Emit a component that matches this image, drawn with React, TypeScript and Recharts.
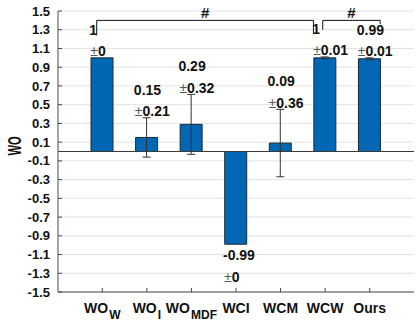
import React from 'react';
import {
  ComposedChart, Bar, Line, XAxis, YAxis, CartesianGrid, ErrorBar, LabelList, ReferenceLine, Label,
} from 'recharts';

// categories; "_" splits the subscript part of the name
const categories = ['WO_W', 'WO_I', 'WO_MDF', 'WCI', 'WCM', 'WCW', 'Ours'];
const means = [1, 0.15, 0.29, -0.99, 0.09, 1, 0.99];
const errors = [0, 0.21, 0.32, 0, 0.36, 0.01, 0.01];
const yTicks = [-1.5, -1.3, -1.1, -0.9, -0.7, -0.5, -0.3, -0.1, 0.1, 0.3, 0.5, 0.7, 0.9, 1.1, 1.3, 1.5];

// significance brackets in (category slot 1..7, value) units: [xStart, xEnd, yTop, yLeftEnd, yRightEnd]
const brackets = [
  [0.87, 5.74, 1.4, 1.24, 1.26],
  [5.95, 7.24, 1.4, 1.3, 1.36],
];
const bracketMarks = ['#', '#'];

const data = categories.map((name, i) => ({
  name,
  slot: i + 1,
  mean: means[i],
  err: errors[i],
  meanText: String(means[i]),
  errText: String(errors[i]),
}));

const FONT = '"Liberation Sans", Arial, sans-serif';
const BLUE = '#0067b4';

const meanLabelY = (d: any) => (d.mean >= 0 ? d.mean + d.err + 0.3 : d.mean - d.err - 0.11);
const errLabelY = (d: any) => (d.mean >= 0 ? d.mean + d.err + 0.07 : d.mean - d.err - 0.35);

const CategoryTick = (props: any) => {
  const { x, y, payload } = props;
  const [main, sub] = String(payload.value).split('_');
  return (
    <text x={x} y={y + 11} textAnchor="middle" fontFamily={FONT} fontWeight="bold" fontSize={14} fill="#111">
      {main}
      {sub && <tspan fontSize={12} dx={1} dy={6}>{sub}</tspan>}
    </text>
  );
};

const MeanLabel = (props: any) => (
  <text x={props.x - 13} y={props.y} dominantBaseline="central" fontFamily={FONT} fontWeight="bold" fontSize={14} fill="#111">
    {props.value}
  </text>
);

const ErrLabel = (props: any) => (
  <text x={props.x - 12} y={props.y} dominantBaseline="central" fontFamily={FONT} fontSize={14} fill="#111">
    <tspan fontWeight="normal" fill="#555">±</tspan>
    <tspan fontWeight="bold">{props.value}</tspan>
  </text>
);

export default function App() {
  return (
    <div style={{ position: 'fixed', left: 0, top: 0, width: 419, height: 323, background: '#fff' }}>
      <ComposedChart width={419} height={323} data={data} margin={{ top: 11, right: 5, bottom: 0, left: 0 }}>
        <CartesianGrid vertical={false} stroke="#e2e2e2" />
        <XAxis
          dataKey="name"
          height={31}
          padding={{ left: 22, right: 22 }}
          stroke="#4a4a4a"
          tickSize={-4}
          tickMargin={14}
          tick={<CategoryTick />}
          interval={0}
        />
        <XAxis
          xAxisId="top"
          dataKey="slot"
          type="number"
          orientation="top"
          domain={[0, 8]}
          allowDataOverflow
          ticks={[1, 2, 3, 4, 5, 6, 7]}
          interval={0}
          height={0}
          stroke="#4a4a4a"
          tickSize={-4}
          tickFormatter={() => ''}
        />
        <YAxis
          width={58}
          domain={[-1.5, 1.5]}
          ticks={yTicks}
          interval={0}
          allowDataOverflow
          stroke="#4a4a4a"
          tickSize={-4}
          tickMargin={12}
          tickFormatter={(v: number) => v.toFixed(1)}
          tick={{ fontFamily: FONT, fontWeight: 'bold', fontSize: 13, fill: '#111' }}
        >
          <Label
            content={() => (
              <text x={0} y={0} transform="translate(14 146) rotate(-90) scale(0.62 1)" textAnchor="middle" dominantBaseline="central"
                fontFamily={FONT} fontWeight="bold" fontSize={18} fill="#111">
                WO
              </text>
            )}
          />
        </YAxis>
        <YAxis
          yAxisId="right"
          orientation="right"
          width={0}
          domain={[-1.5, 1.5]}
          ticks={yTicks}
          interval={0}
          stroke="#4a4a4a"
          tickSize={-4}
          tickFormatter={() => ''}
        />
        <ReferenceLine y={0} stroke="#3a3a3a" />
        <Bar dataKey="mean" fill={BLUE} stroke="#1b2a3a" strokeWidth={1} barSize={22} isAnimationActive={false}>
          <ErrorBar dataKey="err" width={4} stroke="#333" strokeWidth={1} />
        </Bar>
        <Line dataKey={meanLabelY} stroke="none" dot={false} activeDot={false} isAnimationActive={false}>
          <LabelList dataKey="meanText" content={<MeanLabel />} />
        </Line>
        <Line dataKey={errLabelY} stroke="none" dot={false} activeDot={false} isAnimationActive={false}>
          <LabelList dataKey="errText" content={<ErrLabel />} />
        </Line>
        {brackets.map(([x1, x2, yTop, yL, yR], i) => (
          <React.Fragment key={i}>
            <ReferenceLine
              xAxisId="top"
              segment={[{ x: x1, y: yTop }, { x: x2, y: yTop }]}
              stroke="#111"
              label={{ value: bracketMarks[i], position: 'top', offset: 2, fontFamily: FONT, fontWeight: 'bold', fontSize: 15, fill: '#111' }}
            />
            <ReferenceLine xAxisId="top" segment={[{ x: x1, y: yTop }, { x: x1, y: yL }]} stroke="#111" />
            <ReferenceLine xAxisId="top" segment={[{ x: x2, y: yTop }, { x: x2, y: yR }]} stroke="#111" />
          </React.Fragment>
        ))}
      </ComposedChart>
    </div>
  );
}
